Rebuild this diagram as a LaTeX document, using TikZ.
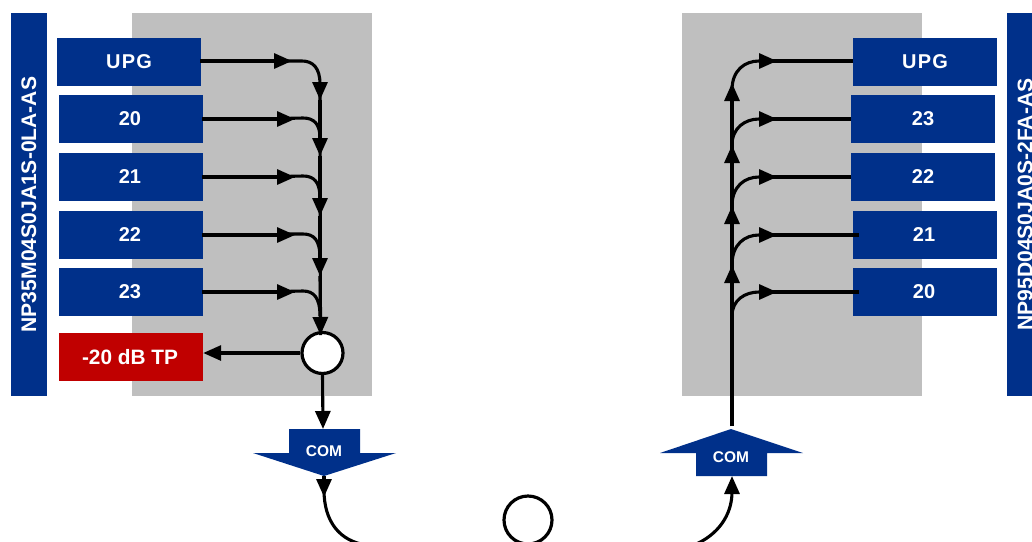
\documentclass[tikz,border=0pt]{standalone}
\usepackage{fontspec}
\setmainfont{Liberation Sans}
\usetikzlibrary{arrows.meta}
\definecolor{npblue}{HTML}{00308A}
\definecolor{npred}{HTML}{C00000}
\definecolor{npgrey}{HTML}{BFBFBF}
\newcommand{\upgtext}{{\addfontfeature{LetterSpace=6}UPG}}
\tikzset{
  port/.style={fill=npblue,text=white,inner sep=0pt,minimum width=144pt,minimum height=48pt,font=\fontsize{20}{24}\selectfont\bfseries},
  tp/.style={port,fill=npred,font=\fontsize{20.8}{24}\selectfont\bfseries},
  bar/.style={fill=npblue,text=white,inner sep=0pt,rotate=90,minimum width=383pt,minimum height=36pt,font=\fontsize{21.1}{24}\selectfont\bfseries},
  panel/.style={fill=npgrey,inner sep=0pt,minimum width=240pt,minimum height=383pt},
  comtext/.style={text=white,inner sep=0pt,font=\fontsize{15.5}{18}\selectfont\bfseries},
  wire/.style={draw=black,line width=3.1pt},
  flow/.style={wire,-{Triangle[length=18pt,width=15pt]}},
  ring/.style={circle,draw=black,line width=3.2pt,fill=white,inner sep=0pt},
}
\begin{document}
\begin{tikzpicture}[x=1pt,y=-1pt]
\useasboundingbox (0,0) rectangle (1032,541);
\clip (0,0) rectangle (1032,541);
% panels and side bars
\node[panel] (gl) at (252,204.5) {};
\node[panel] (gr) at (802,204.5) {};
\node[bar] (barl) at (29,204.5) {NP35M04S0JA1S-0LA-AS};
\node[bar] (barr) at (1025,204.5) {NP95D04S0JA0S-2FA-AS};
% left ports
\node[port] (lu) at (129,62) {\upgtext};
\node[port] (l0) at (131,119) {20\kern2pt};
\node[port] (l1) at (131,177) {21\kern2pt};
\node[port] (l2) at (131,235) {22\kern2pt};
\node[port] (l3) at (131,292) {23\kern2pt};
\node[tp] (ltp) at (131,357) {-20 dB TP\kern2pt};
% right ports
\node[port] (ru) at (925,62) {\upgtext};
\node[port] (r3) at (923,119) {23};
\node[port] (r2) at (923,177) {22};
\node[port] (r1) at (925,235) {21\kern2pt};
\node[port] (r0) at (925,292) {20\kern2pt};
% COM arrows
\fill[npblue] (289,429) -- (360,429) -- (360,453) -- (396,453) -- (324,476) -- (253,453) -- (289,453) -- cycle;
\fill[npblue] (731,429) -- (803,453) -- (767,453) -- (767,476) -- (696,476) -- (696,453) -- (660,453) -- cycle;
\node[comtext] (coml) at (324,451) {COM};
\node[comtext] (comr) at (731,457) {COM};
% rings
\node[ring,minimum size=41pt] (mux) at (322.5,353) {};
\node[ring,minimum size=48pt] (fiber) at (528,520) {};
% coordinates
\coordinate (lut) at (292,61);
\coordinate (l0t) at (295,119);
\coordinate (l1t) at (295,177);
\coordinate (l2t) at (295,235);
\coordinate (l3t) at (295,292);
\coordinate (lub) at (280,61);
\coordinate (l0b) at (282,118.5);
\coordinate (l1b) at (282,176.5);
\coordinate (l2b) at (282,234);
\coordinate (l3b) at (282,291.5);
\coordinate (ltop) at (320,84);
\coordinate (la) at (320,100);
\coordinate (lb) at (320,156);
\coordinate (lc) at (320,216);
\coordinate (ld) at (320,276);
\coordinate (le) at (320.5,335);
\coordinate (comlin) at (323,429);
\coordinate (comlout) at (324,476);
\coordinate (comltip) at (324,497);
\coordinate (offl) at (366,545);
\coordinate (offr) at (694,545);
\coordinate (comrin) at (732,476);
\coordinate (comrout) at (732,426);
\coordinate (ra) at (732,83);
\coordinate (rb) at (732,145);
\coordinate (rc) at (732,206);
\coordinate (rd) at (732,265);
\coordinate (rtop) at (732,95);
\coordinate (rut) at (777,61);
\coordinate (r3t) at (777,119);
\coordinate (r2t) at (777,177);
\coordinate (r1t) at (777,235);
\coordinate (r0t) at (777,292);
\coordinate (rue) at (768,61);
\coordinate (r3e) at (768,119);
\coordinate (r2e) at (768,177);
\coordinate (r1e) at (768,235);
\coordinate (r0e) at (768,292);
\coordinate (lus) at (200,61);
\coordinate (l0s) at (202,119);
\coordinate (l1s) at (202,177);
\coordinate (l2s) at (202,235);
\coordinate (l3s) at (202,292);
\coordinate (r1s) at (859,235);
\coordinate (r0s) at (859,292);
% left horizontals
\draw[flow] (lus) -- (lut);
\draw[flow] (l0s) -- (l0t);
\draw[flow] (l1s) -- (l1t);
\draw[flow] (l2s) -- (l2t);
\draw[flow] (l3s) -- (l3t);
% left bends
\draw[wire] (lub) -- (302,61) .. controls (313,61) and (320,68) .. (320,84);
\draw[wire] (l0b) -- (303,118) .. controls (314,118) and (320,124) .. (320,138);
\draw[wire] (l1b) -- (303,176) .. controls (314,176) and (320,182) .. (320,198);
\draw[wire] (l2b) -- (303,234) .. controls (314,234) and (320,240) .. (320,258);
\draw[wire] (l3b) -- (303,291) .. controls (314,291) and (320,298) .. (320,316);
% left trunk
\draw[wire] (ltop) -- (le);
\draw[flow] (ltop) -- (la);
\draw[flow] (la) -- (lb);
\draw[flow] (lb) -- (lc);
\draw[flow] (lc) -- (ld);
\draw[flow] (ld) -- (le);
\draw[flow] (mux.south) -- (comlin);
\draw[flow] (mux.west) -- (ltp.east |- mux.west);
\draw[flow] (comlout) -- (comltip);
\draw[wire] (324,490) .. controls (324,522) and (340,541) .. (offl);
% right
\draw[wire] (ru.west |- rut) -- (rue);
\draw[wire] (r3.west |- r3t) -- (r3e);
\draw[wire] (r2.west |- r2t) -- (r2e);
\draw[wire] (r1s) -- (r1e);
\draw[wire] (r0s) -- (r0e);
\draw[wire] (comrout) -- (rtop);
\draw[flow] (comrout) -- (rd);
\draw[flow] (rd) -- (rc);
\draw[flow] (rc) -- (rb);
\draw[flow] (rb) -- (ra);
\draw[flow] (732,90) .. controls (732,70) and (745,61) .. (759,61) -- (rut);
\draw[flow] (732,145) .. controls (732,128) and (745,119) .. (759,119) -- (r3t);
\draw[flow] (732,206) .. controls (732,186) and (745,177) .. (759,177) -- (r2t);
\draw[flow] (732,265) .. controls (732,244) and (745,235) .. (759,235) -- (r1t);
\draw[flow] (732,316) .. controls (732,300) and (745,292) .. (759,292) -- (r0t);
\draw[flow] (offr) .. controls (718,535) and (732,515) .. (732,492) -- (comrin);
\end{tikzpicture}
\end{document}
